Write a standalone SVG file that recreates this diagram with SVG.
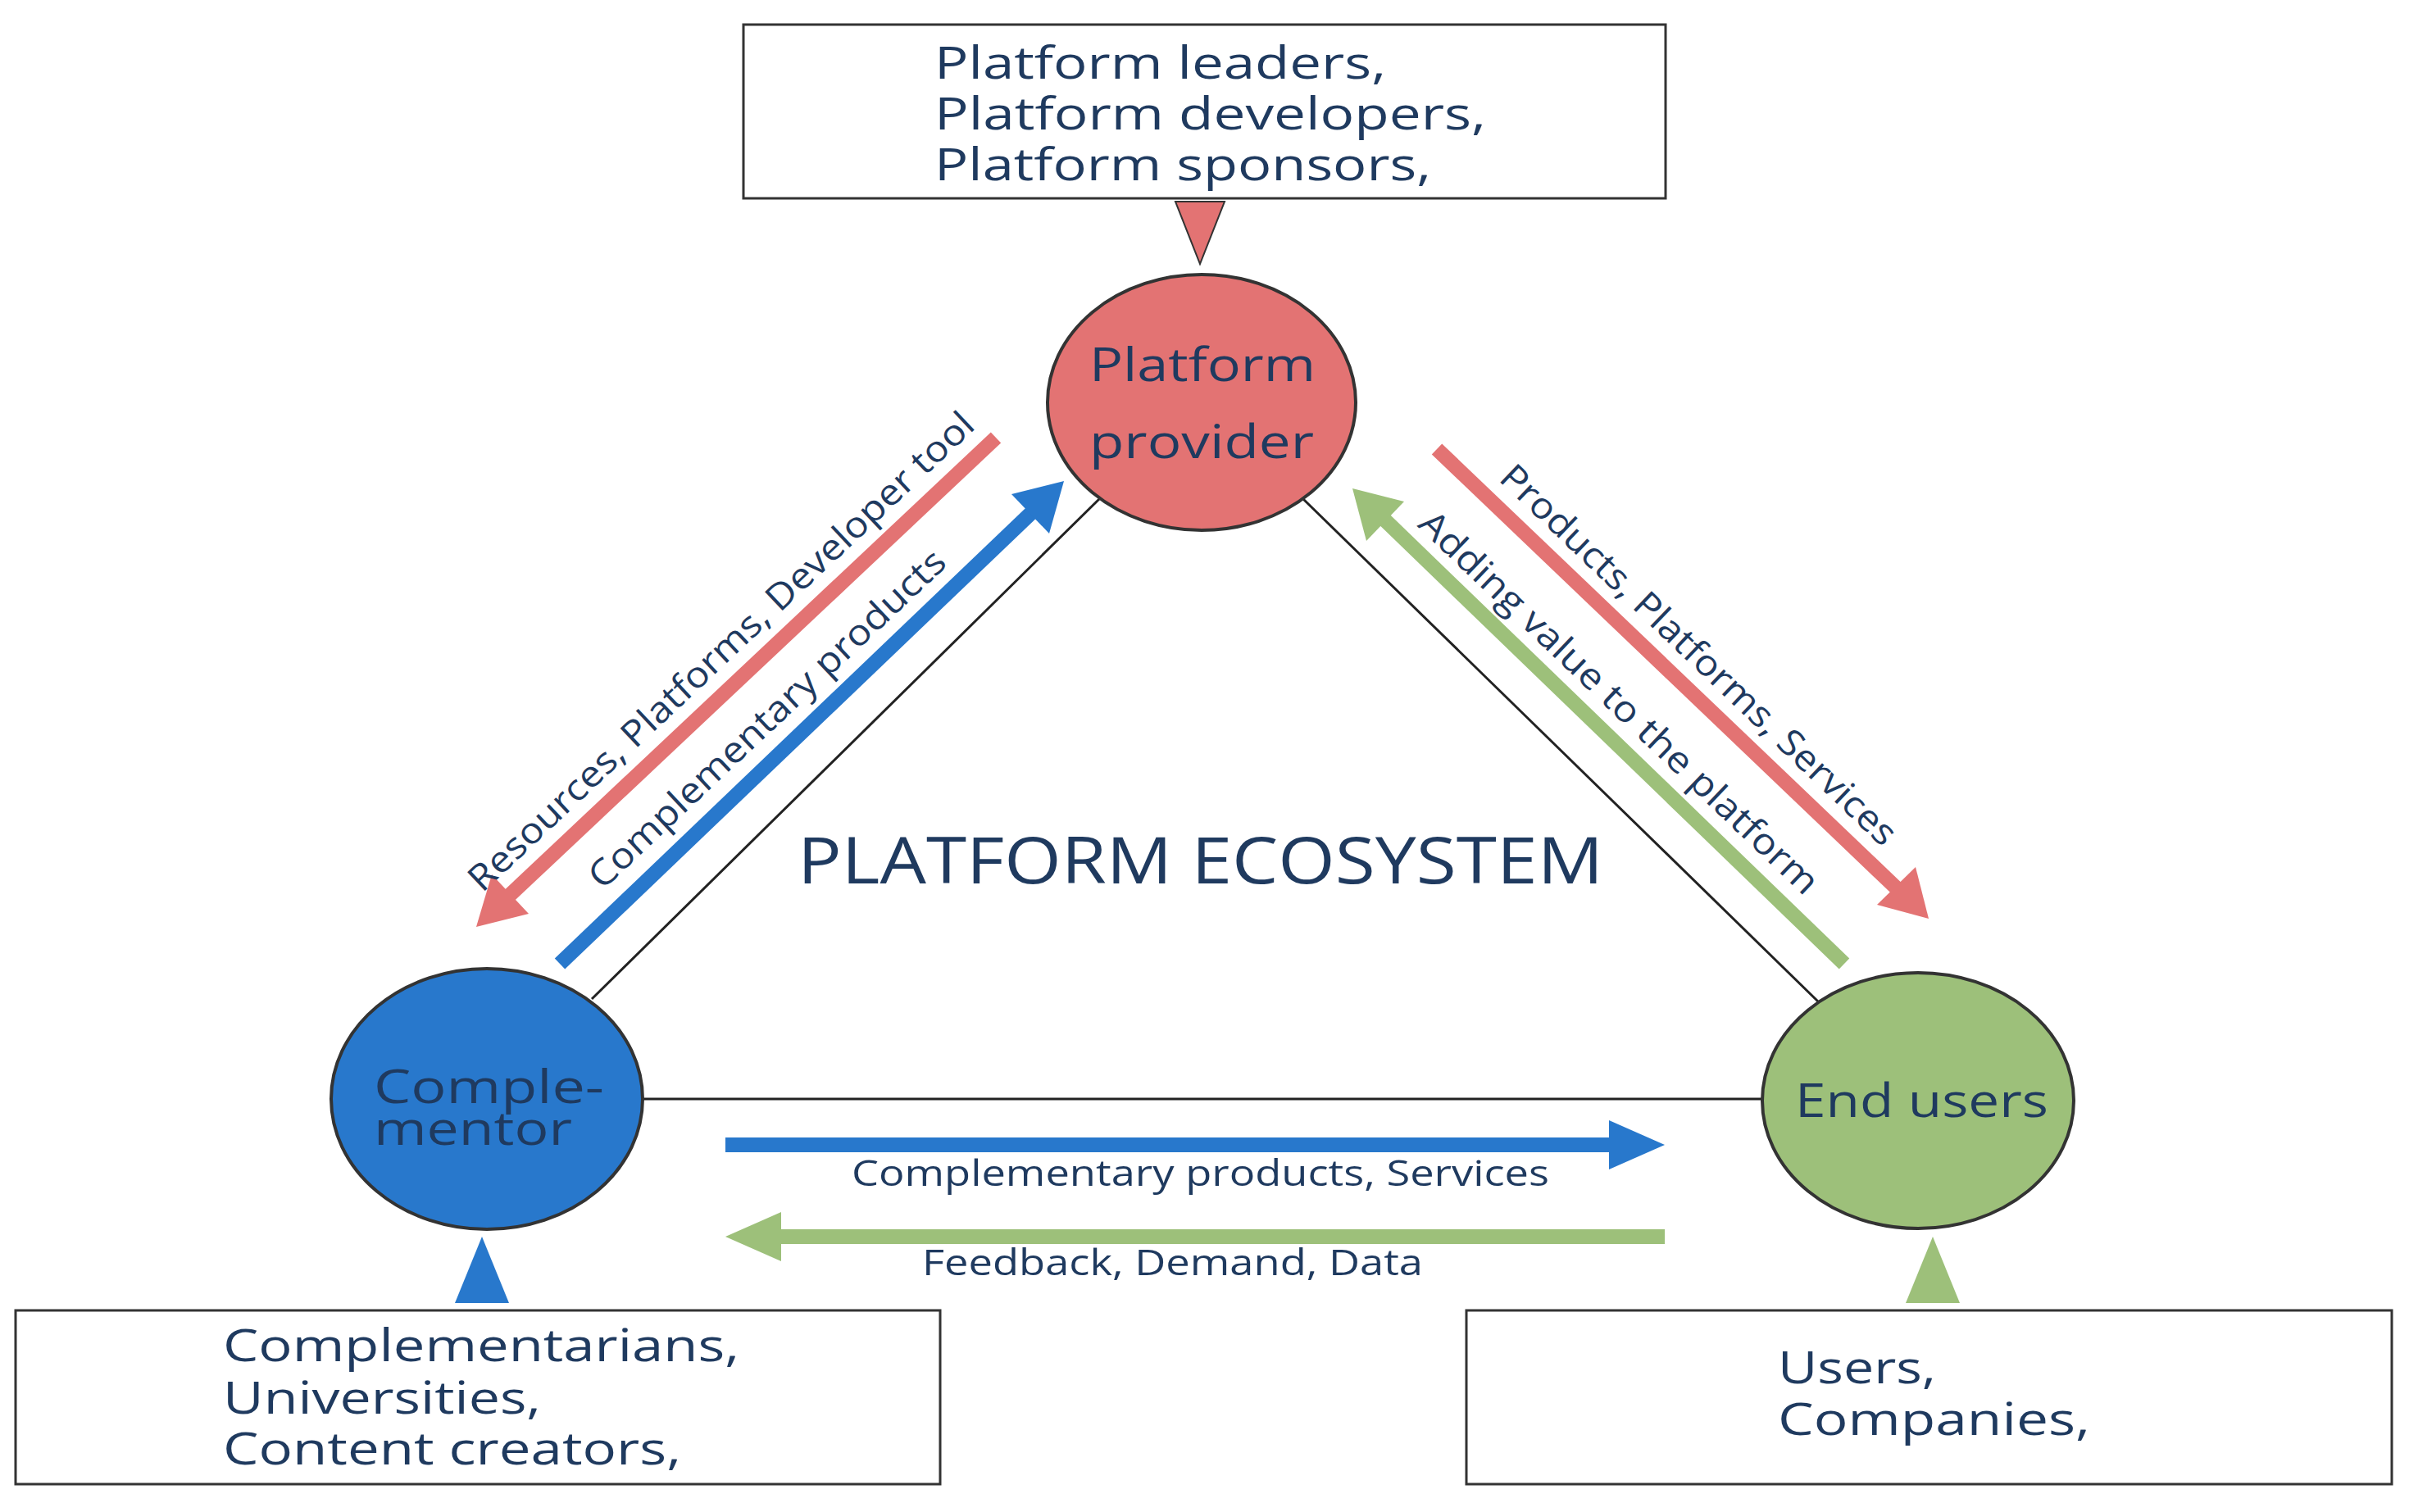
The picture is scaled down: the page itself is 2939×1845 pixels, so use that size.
<svg xmlns="http://www.w3.org/2000/svg" width="2939" height="1845" viewBox="0 0 2939 1845">
<style>
text{font-family:"Open Sans","Noto Sans",sans-serif;fill:#1f3a5f}
.box{fill:#fff;stroke:#333;stroke-width:3}
.big{font-size:54px}
.lbl{font-size:44px}
.node{font-size:56px}
.ln{stroke:#222;stroke-width:3;fill:none}
</style>
<rect width="2939" height="1845" fill="#fff"/>
<g id="connectors">
<line class="ln" x1="1341" y1="609" x2="722" y2="1219"/>
<line class="ln" x1="1590" y1="609" x2="2218" y2="1222"/>
<line class="ln" x1="784" y1="1341" x2="2151" y2="1341"/>
<g stroke-width="18" fill="none">
<line x1="1215" y1="534" x2="620" y2="1094" stroke="#e37373"/>
<polygon points="581,1131 600,1067 645,1115" fill="#e37373"/>
<line x1="683" y1="1176" x2="1260" y2="624" stroke="#2878cc"/>
<polygon points="1298,587 1280,651 1234,603" fill="#2878cc"/>
<line x1="1753" y1="548" x2="2315" y2="1085" stroke="#e37373"/>
<polygon points="2353,1121 2290,1104 2337,1058" fill="#e37373"/>
<line x1="2250" y1="1176" x2="1688" y2="633" stroke="#9dc07a"/>
<polygon points="1650,596 1713,612 1667,660" fill="#9dc07a"/>
<line x1="885" y1="1397" x2="1965" y2="1397" stroke="#2878cc"/>
<polygon points="2031,1397 1963,1367 1963,1427" fill="#2878cc"/>
<line x1="2031" y1="1509" x2="951" y2="1509" stroke="#9dc07a"/>
<polygon points="885,1509 953,1479 953,1539" fill="#9dc07a"/>
</g>
<polygon points="1434,246 1494,246 1464,322" fill="#e37373" stroke="#333" stroke-width="2"/>
<polygon points="555,1590 621,1590 588,1509" fill="#2878cc"/>
<polygon points="2325,1590 2391,1590 2358,1509" fill="#9dc07a"/>
<text class="lbl" transform="translate(890,806) rotate(-43.3)" text-anchor="middle" textLength="829" lengthAdjust="spacingAndGlyphs">Resources, Platforms, Developer tool</text>
<text class="lbl" transform="translate(946,888) rotate(-43.3)" text-anchor="middle" textLength="580" lengthAdjust="spacingAndGlyphs">Complementary products</text>
<text class="lbl" transform="translate(2062,810) rotate(43.7)" text-anchor="middle" textLength="650" lengthAdjust="spacingAndGlyphs">Products, Platforms, Services</text>
<text class="lbl" transform="translate(1965,868) rotate(43.7)" text-anchor="middle" textLength="655" lengthAdjust="spacingAndGlyphs">Adding value to the platform</text>
<text class="lbl" x="1039" y="1447" textLength="851" lengthAdjust="spacingAndGlyphs">Complementary products, Services</text>
<text class="lbl" x="1125" y="1556" textLength="611" lengthAdjust="spacingAndGlyphs">Feedback, Demand, Data</text>
</g>
<text x="973" y="1078" font-size="78" textLength="983" lengthAdjust="spacingAndGlyphs">PLATFORM ECOSYSTEM</text>
<g id="top-box"><rect class="box" x="907" y="30" width="1125" height="212"/>
<text class="big" x="1140" y="96" textLength="551" lengthAdjust="spacingAndGlyphs">Platform leaders,</text>
<text class="big" x="1140" y="158" textLength="673" lengthAdjust="spacingAndGlyphs">Platform developers,</text>
<text class="big" x="1140" y="220" textLength="606" lengthAdjust="spacingAndGlyphs">Platform sponsors,</text></g>
<g id="provider"><ellipse cx="1466" cy="491" rx="188" ry="156" fill="#e37373" stroke="#333" stroke-width="4"/>
<text class="node" x="1329" y="465" textLength="276" lengthAdjust="spacingAndGlyphs">Platform</text>
<text class="node" x="1329" y="559" textLength="274" lengthAdjust="spacingAndGlyphs">provider</text></g>
<g id="complementor"><ellipse cx="594" cy="1341" rx="190" ry="159" fill="#2878cc" stroke="#333" stroke-width="4"/>
<text class="node" x="456" y="1346" textLength="281" lengthAdjust="spacingAndGlyphs">Comple-</text>
<text class="node" x="456" y="1397" textLength="242" lengthAdjust="spacingAndGlyphs">mentor</text></g>
<g id="endusers"><ellipse cx="2340" cy="1343" rx="190" ry="156" fill="#9dc07a" stroke="#333" stroke-width="4"/>
<text class="node" x="2190" y="1363" textLength="309" lengthAdjust="spacingAndGlyphs">End users</text></g>
<g id="left-box"><rect class="box" x="19" y="1599" width="1128" height="212"/>
<text class="big" x="272" y="1661" textLength="630" lengthAdjust="spacingAndGlyphs">Complementarians,</text>
<text class="big" x="272" y="1725" textLength="388" lengthAdjust="spacingAndGlyphs">Universities,</text>
<text class="big" x="272" y="1787" textLength="559" lengthAdjust="spacingAndGlyphs">Content creators,</text></g>
<g id="right-box"><rect class="box" x="1789" y="1599" width="1129" height="212"/>
<text class="big" x="2169" y="1688" textLength="193" lengthAdjust="spacingAndGlyphs">Users,</text>
<text class="big" x="2169" y="1751" textLength="381" lengthAdjust="spacingAndGlyphs">Companies,</text></g>
</svg>
